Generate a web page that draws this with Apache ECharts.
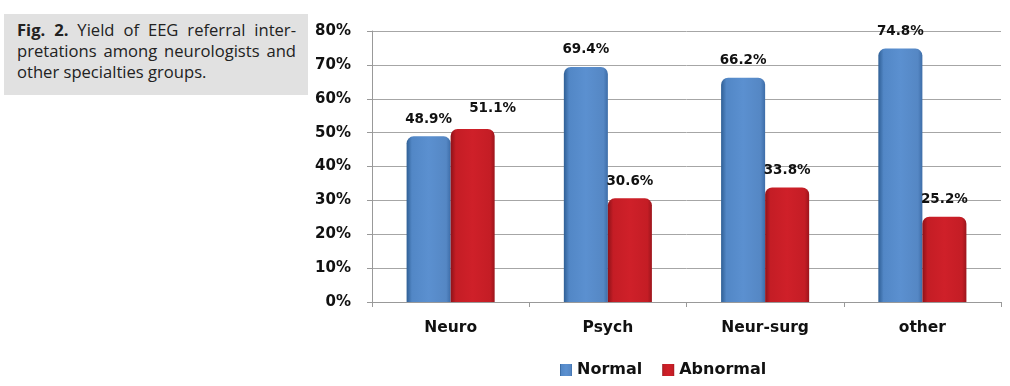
<!DOCTYPE html>
<html><head><meta charset="utf-8">
<script src="https://cdn.jsdelivr.net/npm/echarts@6/dist/echarts.min.js"></script>
<style>
html,body{margin:0;padding:0;background:#fff;}
#wrap{position:relative;width:1010px;height:386px;}
#chart{position:absolute;left:0;top:0;width:1010px;height:386px;}
#cap{position:absolute;left:4px;top:14px;width:279px;height:71px;padding:5px 12px 5px 13px;background:#e1e1e1;
font-family:"Open Sans",sans-serif;font-size:16.6px;line-height:21px;color:#222;text-align:justify;z-index:2;}
</style></head>
<body><div id="wrap"><div id="chart"></div>
<div id="cap"><b>Fig. 2.</b> Yield of EEG referral inter-pretations among neurologists and other specialties groups.</div></div>
<script>
const categories = ['Neuro', 'Psych', 'Neur-surg', 'other'];
const normal = [48.9, 69.4, 66.2, 74.8];
const abnormal = [51.1, 30.6, 33.8, 25.2];
const seriesNames = ['Normal', 'Abnormal'];

const chart = echarts.init(document.getElementById('chart'));
const blue = new echarts.graphic.LinearGradient(0,0,1,0,[
  {offset:0,color:'#2f5f95'},{offset:0.12,color:'#5287c6'},{offset:0.5,color:'#5b90d0'},{offset:0.9,color:'#5587c4'},{offset:1,color:'#3d6da8'}]);
const red = new echarts.graphic.LinearGradient(0,0,1,0,[
  {offset:0,color:'#8e1219'},{offset:0.12,color:'#c41d25'},{offset:0.5,color:'#cf2029'},{offset:0.9,color:'#c41d25'},{offset:1,color:'#9c151c'}]);
const labelStyle = {show:true, position:'top', distance:10, formatter: p => p.value.toFixed(1)+'%',
  fontFamily:'DejaVu Sans', fontWeight:'bold', fontSize:13.5, color:'#111'};
// first abnormal label is nudged right/up in the original to avoid overlapping its neighbour
const abnormalData = abnormal.map((v, i) => i === 0 ? {value: v, label: {offset: [20, -3]}} : v);
chart.setOption({
  animation:false,
  grid:{left:372, right:9, top:31, bottom:84},
  legend:{bottom:3, left:555, itemWidth:12, itemHeight:12, itemGap:20,
    textStyle:{fontFamily:'DejaVu Sans', fontWeight:'bold', fontSize:16, color:'#111'},
    data:[{name:'Normal', icon:'rect'},{name:'Abnormal', icon:'rect'}]},
  xAxis:{type:'category', data:categories,
    axisLine:{lineStyle:{color:'#999'}}, axisTick:{show:true, length:5, lineStyle:{color:'#999'}},
    axisLabel:{margin:18, fontFamily:'DejaVu Sans', fontWeight:'bold', fontSize:15.5, color:'#111'}},
  yAxis:{type:'value', min:0, max:80, interval:10,
    axisLine:{show:true, lineStyle:{color:'#999'}}, axisTick:{show:true, length:5, lineStyle:{color:'#999'}},
    splitLine:{lineStyle:{color:'#a6a6a6', width:1}},
    axisLabel:{margin:21, formatter:'{value}%', fontFamily:'DejaVu Sans', fontWeight:'bold', fontSize:15, color:'#111'}},
  series:[
    {name:seriesNames[0], type:'bar', data:normal, barGap:'0%', barCategoryGap:'44%',
     itemStyle:{color:blue, borderRadius:[7,7,0,0]}, label:labelStyle},
    {name:seriesNames[1], type:'bar', data:abnormalData,
     itemStyle:{color:red, borderRadius:[7,7,0,0]}, label:labelStyle}
  ]
});
</script></body></html>
